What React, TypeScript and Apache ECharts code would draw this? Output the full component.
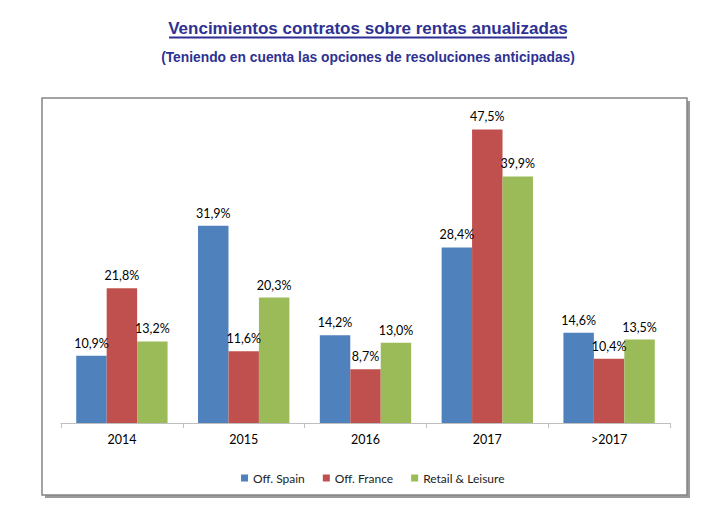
import { useEffect, useRef } from "react";
import * as echarts from "echarts";

// ----- data -----
const categories = ["2014", "2015", "2016", "2017", ">2017"];
const seriesNames = ["Off. Spain", "Off. France", "Retail & Leisure"];
const offSpain = [10.9, 31.9, 14.2, 28.4, 14.6];
const offFrance = [21.8, 11.6, 8.7, 47.5, 10.4];
const retailLeisure = [13.2, 20.3, 13.0, 39.9, 13.5];
const colors = ["#4F81BD", "#C0504D", "#9BBB59"];

const TITLE = "Vencimientos contratos sobre rentas anualizadas";
const SUBTITLE = "(Teniendo en cuenta las opciones de resoluciones anticipadas)";
const TITLE_COLOR = "#2E3192";

const fmt = (v: number) => v.toFixed(1).replace(".", ",") + "%";

export default function App() {
    const containerRef = useRef<HTMLDivElement | null>(null);

    useEffect(() => {
        if (!containerRef.current) return;
        const chart = echarts.init(containerRef.current, undefined, { renderer: "svg" });

        const values = [offSpain, offFrance, retailLeisure];

        const option: echarts.EChartsOption = {
            animation: false,
            backgroundColor: "#ffffff",
            graphic: [
                // chart frame with its shadow
                {
                    type: "rect",
                    z: -10,
                    shape: { x: 45, y: 101, width: 645, height: 397 },
                    style: { fill: "#9a9a9a" },
                    silent: true,
                },
                {
                    type: "rect",
                    z: -9,
                    shape: { x: 42, y: 98, width: 645, height: 397 },
                    style: { fill: "#ffffff", stroke: "#858585", lineWidth: 1.5 },
                    silent: true,
                },
                // title, underlined
                {
                    type: "text",
                    x: 368,
                    y: 28,
                    style: {
                        text: TITLE,
                        fontSize: 17,
                        fontWeight: "bold",
                        fontFamily: "Liberation Sans",
                        fill: TITLE_COLOR,
                        align: "center",
                        verticalAlign: "middle",
                    },
                },
                {
                    type: "line",
                    shape: { x1: 169, y1: 37.5, x2: 567, y2: 37.5 },
                    style: { stroke: TITLE_COLOR, lineWidth: 2 },
                },
                {
                    type: "text",
                    x: 368,
                    y: 57,
                    style: {
                        text: SUBTITLE,
                        fontSize: 13.8,
                        fontWeight: "bold",
                        fontFamily: "Liberation Sans",
                        fill: TITLE_COLOR,
                        align: "center",
                        verticalAlign: "middle",
                    },
                },
            ],
            legend: {
                data: seriesNames,
                bottom: 30,
                left: 236,
                icon: "rect",
                itemWidth: 7,
                itemHeight: 7,
                itemGap: 18,
                textStyle: { color: "#222222", fontSize: 12, fontFamily: "Lato" },
            },
            grid: { left: 61, right: 53, top: 114, bottom: 96 },
            xAxis: {
                type: "category",
                data: categories,
                axisLine: { lineStyle: { color: "#bfbfbf", width: 1 } },
                axisTick: { show: true, length: 5, lineStyle: { color: "#bfbfbf" } },
                axisLabel: { color: "#000000", fontSize: 12.5, fontFamily: "Lato", margin: 10 },
            },
            yAxis: {
                type: "value",
                min: 0,
                max: 50,
                show: false,
                splitLine: { show: false },
            },
            series: seriesNames.map((name, i) => ({
                name,
                type: "bar",
                data: values[i],
                barGap: "0%",
                barCategoryGap: "25%",
                itemStyle: { color: colors[i] },
                label: {
                    show: true,
                    position: "top",
                    distance: 6,
                    color: "#000000",
                    fontSize: 12.5,
                    fontFamily: "Lato",
                    formatter: (p: any) => fmt(p.value as number),
                },
            })),
        };

        chart.setOption(option);

        return () => {
            chart.dispose();
        };
    }, []);

    return (
        <div
            ref={containerRef}
            style={{ position: "fixed", left: 0, top: 0, width: 723, height: 519 }}
        />
    );
}
